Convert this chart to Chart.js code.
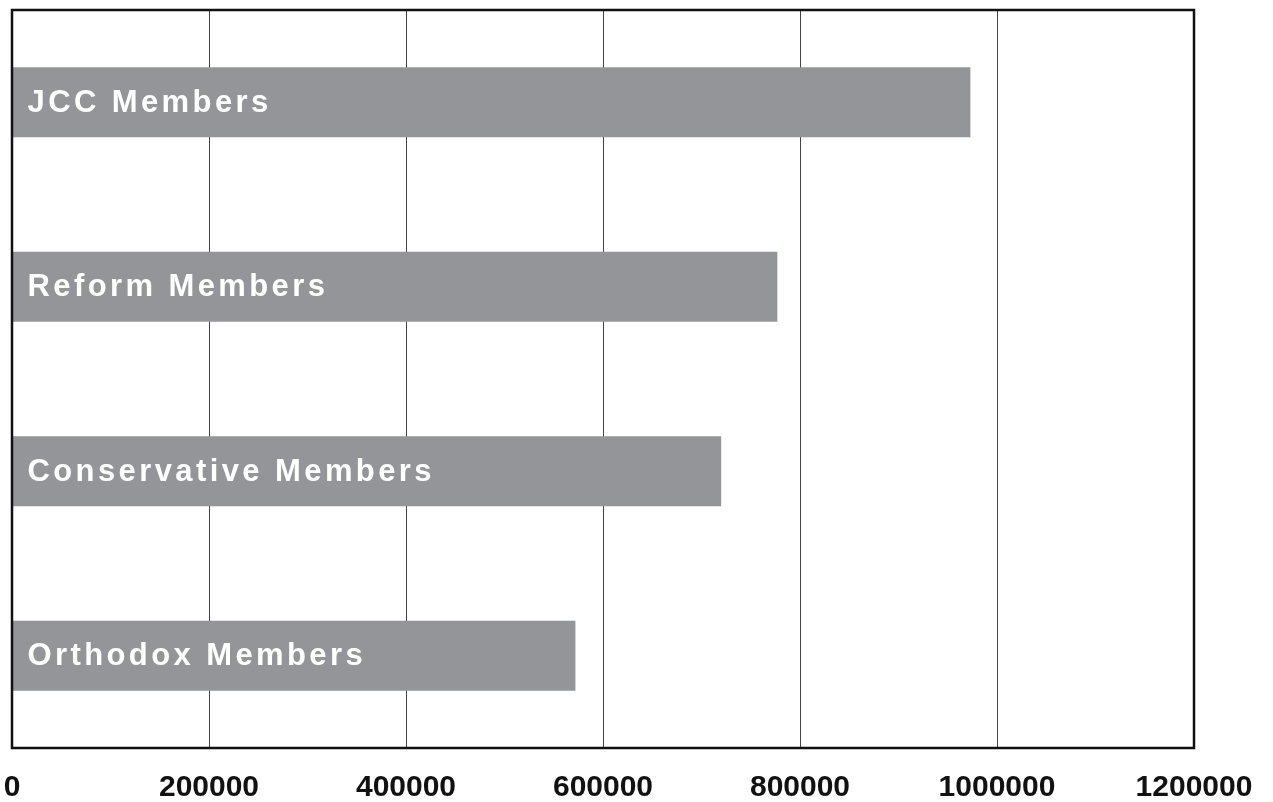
<!DOCTYPE html>
<html>
<head>
<meta charset="utf-8">
<title>Members</title>
<script src="https://cdn.jsdelivr.net/npm/chart.js@4.4.1/dist/chart.umd.min.js"></script>
<style>
  html, body { margin: 0; padding: 0; background: #fff; }
  #wrap { width: 1273px; height: 802px; }
</style>
</head>
<body>
<div id="wrap"><canvas id="membersChart" width="1273" height="802"></canvas></div>
<script>
// Datos
const categories = ['JCC Members', 'Reform Members', 'Conservative Members', 'Orthodox Members'];
const members = [973000, 777000, 720000, 572000];
const xTicks = [0, 200000, 400000, 600000, 800000, 1000000, 1200000];

const barGray = '#939598';

// Etiquetas blancas dentro de cada barra
const barLabels = {
  id: 'barLabels',
  afterDatasetsDraw(chart) {
    const ctx = chart.ctx;
    const meta = chart.getDatasetMeta(0);
    ctx.save();
    ctx.fillStyle = '#ffffff';
    ctx.font = 'bold 31px "Liberation Sans", Arial, sans-serif';
    ctx.letterSpacing = '3.4px';
    ctx.textAlign = 'left';
    ctx.textBaseline = 'middle';
    meta.data.forEach((bar, i) => {
      ctx.fillText(categories[i], bar.base + 15, bar.y + 1);
    });
    ctx.restore();
  }
};

// Marco alrededor del área de la gráfica
const frame = {
  id: 'frame',
  afterDraw(chart) {
    const a = chart.chartArea;
    const ctx = chart.ctx;
    ctx.save();
    ctx.strokeStyle = '#111';
    ctx.lineWidth = 2.5;
    ctx.strokeRect(a.left, a.top, a.right - a.left, a.bottom - a.top);
    ctx.restore();
  }
};

const config = {
  type: 'bar',
  data: {
    labels: categories,
    datasets: [{
      data: members,
      backgroundColor: barGray,
      borderWidth: 0,
      categoryPercentage: 1,
      barPercentage: 0.38
    }]
  },
  options: {
    indexAxis: 'y',
    responsive: false,
    animation: false,
    layout: {
      padding: { left: 12, top: 10, right: 79, bottom: 0 }
    },
    plugins: {
      legend: { display: false },
      tooltip: { enabled: false }
    },
    scales: {
      x: {
        type: 'linear',
        min: 0,
        max: 1200000,
        afterBuildTicks(scale) {
          scale.ticks = xTicks.map(v => ({ value: v }));
        },
        afterFit(scale) {
          scale.paddingLeft = 0;
          scale.paddingRight = 0;
          scale.height = 54;
        },
        grid: {
          color: '#444',
          lineWidth: 1,
          drawTicks: false
        },
        border: { display: false },
        ticks: {
          color: '#111',
          padding: 25,
          maxRotation: 0,
          autoSkip: false,
          font: { family: '"Liberation Sans", Arial, sans-serif', size: 30, weight: 'bold', lineHeight: 1 },
          callback: v => String(v)
        }
      },
      y: {
        display: false
      }
    }
  },
  plugins: [barLabels, frame]
};

const membersChart = new Chart(document.getElementById('membersChart'), config);
</script>
</body>
</html>
